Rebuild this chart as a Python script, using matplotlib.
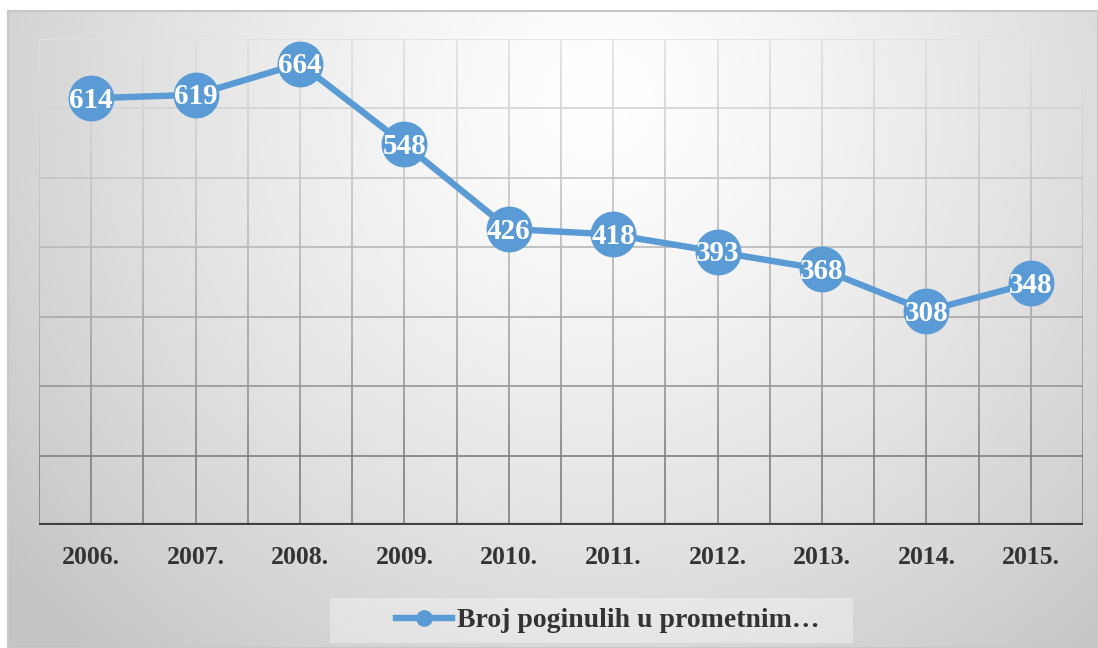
import numpy as np
import matplotlib.pyplot as plt
from matplotlib.patches import Rectangle
from matplotlib.lines import Line2D
from matplotlib.collections import LineCollection

years = ['2006.', '2007.', '2008.', '2009.', '2010.',
         '2011.', '2012.', '2013.', '2014.', '2015.']
deaths = [614, 619, 664, 548, 426, 418, 393, 368, 308, 348]
series_name = 'Broj poginulih u prometnim…'

blue = '#5b9bd5'
txt = '#333333'
serif = ['Liberation Serif', 'DejaVu Serif']

W, H = 1098, 648
fig = plt.figure(figsize=(W / 100, H / 100), dpi=100)
fig.patch.set_facecolor('white')

# background gradient of chart area
x0, y0 = 8, 11
bg = fig.add_axes([x0 / W, 0, 1 - x0 / W, 1 - y0 / H], zorder=0)
bw, bh = W - x0, H - y0
yy, xx = np.mgrid[0:bh, 0:bw]
t = np.sqrt(((xx - 590) / 760.0) ** 2 + ((yy - 90) / 760.0) ** 2)
t = np.clip(t, 0, 1) ** 1.3
shade = 1.0 - (1.0 - 196 / 255) * t
bg.imshow(np.dstack([shade, shade, shade]), aspect='auto', extent=[0, bw, bh, 0])
bg.set_xlim(0, bw)
bg.set_ylim(bh, 0)
bg.axis('off')
fig.add_artist(Rectangle((x0 / W, 0), 1 - x0 / W, 1 - y0 / H, transform=fig.transFigure,
                         fill=False, ec='#c8c8c8', lw=1.5, zorder=1))

ax = fig.add_axes([39 / W, 1 - 525 / H, (1083 - 39) / W, (525 - 38.5) / H], zorder=2)
ax.patch.set_alpha(0)
x = np.arange(len(years))
ax.set_xlim(-0.5, len(years) - 0.5)
ax.set_ylim(0, 700)


def grid_gray(v):
    f = np.clip((v - 100) / 600.0, 0, 1) ** 0.8
    g = (128 + 97 * f) / 255
    return (g, g, g)


# gridlines darker toward the bottom, lighter toward the top
segs, cols = [], []
for v in np.arange(100, 701, 100):
    segs.append([(-0.5, v), (len(years) - 0.5, v)])
    cols.append(grid_gray(v))
ys = np.linspace(0, 700, 141)
for xv in np.arange(-0.5, len(years), 0.5):
    for a, b in zip(ys[:-1], ys[1:]):
        segs.append([(xv, a), (xv, b)])
        cols.append(grid_gray((a + b) / 2))
ax.add_collection(LineCollection(segs, colors=cols, linewidths=1.2, zorder=1))
ax.axhline(0, color='#404040', lw=3, zorder=2)

ax.plot(x, deaths, color=blue, lw=4.6, marker='o', ms=32, mec=blue, mfc=blue,
        zorder=3, solid_capstyle='round')
for xi, v in zip(x, deaths):
    ax.text(xi, v - 3, str(v), ha='center', va='center', color='white',
            fontsize=21, fontweight='bold', family=serif, zorder=4)

for s in ax.spines.values():
    s.set_visible(False)
ax.set_yticks([])
ax.set_xticks(x)
ax.set_xticklabels(years, fontsize=18.5, fontweight='bold', family=serif, color=txt)
ax.tick_params(axis='x', length=0, pad=15)

# legend
fig.add_artist(Rectangle((330 / W, 1 - 643 / H), 523 / W, 45 / H, transform=fig.transFigure,
                         fc='white', alpha=0.35, ec='none', zorder=3))
handle = Line2D([], [], color=blue, lw=4.6, marker='o', ms=11, mec=blue, mfc=blue)
leg = fig.legend([handle], [series_name], loc='center', bbox_to_anchor=(608 / W, 1 - 620.5 / H),
                 frameon=False, handlelength=2.0, handletextpad=0.2,
                 prop={'family': serif, 'weight': 'bold', 'size': 20})
leg.set_zorder(4)
for tx in leg.get_texts():
    tx.set_color(txt)

fig.savefig('out.png', dpi=100)
